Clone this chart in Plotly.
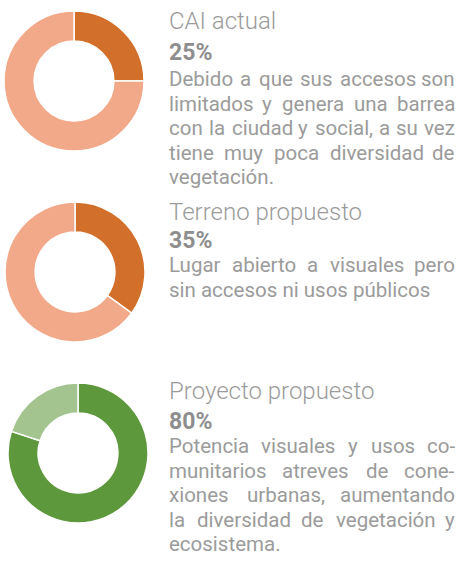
import plotly.graph_objects as go

W, H = 473, 565

# Indicator data: share achieved vs remainder
titles = ["CAI actual", "Terreno propuesto", "Proyecto propuesto"]
values = [25, 35, 80]
dark_colors = ["#D2702B", "#D2702B", "#5E983D"]
light_colors = ["#F2A98A", "#F2A98A", "#A3C48F"]
descriptions = [
    ["Debido a que sus accesos son",
     "limitados y genera una barrea",
     "con la ciudad y social, a su vez",
     "tiene muy poca diversidad de",
     "vegetación."],
    ["Lugar abierto a visuales pero",
     "sin accesos ni usos públicos"],
    ["Potencia visuales y usos co-",
     "munitarios atreves de cone-",
     "xiones urbanas, aumentando",
     "la diversidad de vegetación y",
     "ecosistema."],
]

# Layout in pixels: donut centres, radius, text block anchors
centers = [(74, 81), (75, 272), (78, 453)]
radius = 70
text_left, text_right = 169, 455
title_y = [21, 212, 391]
pct_y = [52, 241, 421]
body_y0 = [79, 265, 446]
line_pitch = 24.5

TEXT_GRAY = "#9b9b9b"
PCT_GRAY = "#8e8e8e"
FONT = "Roboto"
BODY_SIZE = 20.5

# Approximate Roboto advance widths (units per 2048 em) used to justify lines
ADV = {" ": 507, "a": 1087, "b": 1120, "c": 1045, "d": 1126, "e": 1058, "f": 693,
       "g": 1120, "h": 1100, "i": 485, "j": 477, "k": 1011, "l": 485, "m": 1751,
       "n": 1102, "o": 1139, "p": 1120, "q": 1126, "r": 677, "s": 1030, "t": 654,
       "u": 1101, "v": 968, "w": 1502, "x": 990, "y": 945, "z": 990, ",": 393,
       ".": 527, "-": 553, "D": 1310, "L": 1077, "P": 1292, "á": 1087, "ó": 1139,
       "ú": 1101, "é": 1058}


def word_width(word, size):
    return sum(ADV.get(ch, 1100) for ch in word) / 2048 * size


def px_x(x):
    return x / W


def px_y(y):
    return 1 - y / H


def text_ann(x, y, text, size, color, anchor="left", weight=None):
    font = dict(family=FONT, size=size, color=color)
    if weight is not None:
        font["weight"] = weight
    return dict(x=px_x(x), y=px_y(y), xref="paper", yref="paper",
                xanchor=anchor, yanchor="middle", showarrow=False,
                borderpad=0, borderwidth=0, text=text, font=font)


fig = go.Figure()
annotations = []
for i in range(3):
    cx, cy = centers[i]
    fig.add_trace(go.Pie(
        values=[values[i], 100 - values[i]],
        marker=dict(colors=[dark_colors[i], light_colors[i]],
                    line=dict(color="white", width=1.5)),
        hole=0.57,
        sort=False,
        direction="clockwise",
        rotation=0,
        textinfo="none",
        hoverinfo="skip",
        showlegend=False,
        domain=dict(x=[px_x(cx - radius), px_x(cx + radius)],
                    y=[px_y(cy + radius), px_y(cy - radius)]),
    ))
    annotations.append(text_ann(text_left, title_y[i], titles[i], 24, TEXT_GRAY, weight=300))
    annotations.append(text_ann(text_left, pct_y[i], f"<b>{values[i]}%</b>", 23, PCT_GRAY))

    lines = descriptions[i]
    for j, line in enumerate(lines):
        y = body_y0[i] + j * line_pitch
        words = line.split(" ")
        if j == len(lines) - 1 or len(words) == 1:
            # last line of a paragraph stays ragged
            annotations.append(text_ann(text_left, y, line, BODY_SIZE, TEXT_GRAY))
            continue
        # justified line: spread words across the column width
        widths = [word_width(w, BODY_SIZE) for w in words]
        gap = (text_right - text_left - sum(widths)) / (len(words) - 1)
        x = text_left
        for k, (w, ww) in enumerate(zip(words, widths)):
            if k == len(words) - 1:
                annotations.append(text_ann(text_right, y, w, BODY_SIZE, TEXT_GRAY, anchor="right"))
            else:
                annotations.append(text_ann(x, y, w, BODY_SIZE, TEXT_GRAY))
            x += ww + gap

fig.update_layout(
    width=W, height=H,
    margin=dict(l=0, r=0, t=0, b=0),
    paper_bgcolor="white", plot_bgcolor="white",
    annotations=annotations,
)

fig.write_html("out.html")
